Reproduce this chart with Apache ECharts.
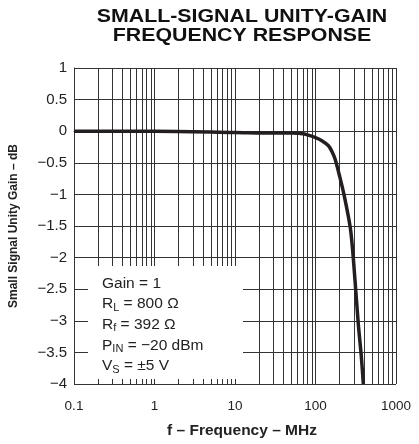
<!DOCTYPE html>
<html>
<head>
<meta charset="utf-8">
<script src="https://cdn.jsdelivr.net/npm/echarts@6/dist/echarts.min.js"></script>
<style>html,body{margin:0;padding:0;background:#fff;}#c{width:419px;height:444px;}</style>
</head>
<body>
<div id="c"></div>
<script>
// Data
const freqMHz = [0.1, 1, 10, 30, 50, 70, 100, 120, 145, 160, 175, 200, 230, 270, 290, 310, 340, 370, 393];
const gainDB  = [0, 0, -0.02, -0.03, -0.03, -0.04, -0.1, -0.15, -0.23, -0.32, -0.44, -0.72, -1.05, -1.52, -1.9, -2.37, -3.05, -3.55, -4.0];
const xDecades = [0.1, 1, 10, 100];
const minorMultiples = [2, 3, 4, 5, 6, 7, 8, 9];
const yMin = -4, yMax = 1, yStep = 0.5;
const titleLines = ['SMALL-SIGNAL UNITY-GAIN', 'FREQUENCY RESPONSE'];
const xName = 'f \u2013 Frequency \u2013 MHz';
const yName = 'Small Signal Unity Gain \u2013 dB';
const noteLines = ['Gain = 1', 'R{s|L} = 800 \u03A9', 'R{s|f} = 392 \u03A9', 'P{s|IN} = \u221220 dBm', 'V{s|S} = \u00B15 V'];

const minorX = [];
xDecades.forEach(d => minorMultiples.forEach(m => minorX.push(+(d * m).toPrecision(6))));

const font = '"Liberation Sans", Arial, Helvetica, sans-serif';
const gridColor = '#333';

const chart = echarts.init(document.getElementById('c'), null, {renderer: 'canvas'});
chart.setOption({
  animation: false,
  backgroundColor: '#fff',
  grid: {left: 74, right: 23, top: 68, bottom: 59, containLabel: false},
  xAxis: {
    type: 'log', logBase: 10, min: 0.1, max: 1000,
    name: xName, nameLocation: 'middle', nameGap: 39,
    nameTextStyle: {fontFamily: font, fontSize: 15.5, fontWeight: 'bold', color: '#222', padding: [0, 0, 0, 14]},
    axisLine: {show: true, lineStyle: {color: gridColor, width: 1}},
    axisTick: {show: false},
    axisLabel: {fontFamily: font, fontSize: 13.5, color: '#222', margin: 15,
      formatter: v => String(+v.toPrecision(6))},
    splitLine: {show: true, lineStyle: {color: gridColor, width: 1}}
  },
  yAxis: {
    type: 'value', min: yMin, max: yMax, interval: yStep,
    name: yName, nameLocation: 'middle', nameGap: 54, nameRotate: 90,
    nameTextStyle: {fontFamily: font, fontSize: 12, fontWeight: 'bold', color: '#222'},
    axisLine: {show: true, lineStyle: {color: gridColor, width: 1}},
    axisTick: {show: false},
    axisLabel: {fontFamily: font, fontSize: 15, color: '#222', margin: 7,
      formatter: v => (v < 0 ? '\u2212' + String(Math.abs(v)) : String(v))},
    splitLine: {show: true, lineStyle: {color: gridColor, width: 1}}
  },
  series: [
    {
      type: 'line', data: [], silent: true,
      markLine: {
        silent: true, symbol: 'none', label: {show: false}, z: 5,
        lineStyle: {color: gridColor, width: 1, type: 'solid'},
        data: minorX.map(v => ({xAxis: v}))
      },
      z: 1
    },
    {
      type: 'line', data: freqMHz.map((f, i) => [f, gainDB[i]]),
      showSymbol: false, smooth: 0.3,
      lineStyle: {color: '#231f20', width: 3.5},
      z: 10
    }
  ],
  graphic: [
    {type: 'text', x: 242, y: 7, scaleX: 1.22, z: 60,
      style: {text: titleLines.join('\n'), textAlign: 'center', fontFamily: font, fontSize: 17.5,
        fontWeight: 'bold', fill: '#111', lineHeight: 19.5}},
    {type: 'rect', shape: {x: 88, y: 266, width: 155, height: 113}, style: {fill: '#fff'}, z: 50},
    {type: 'text', x: 102, y: 273, z: 51,
      style: {
        text: noteLines.join('\n'), fontFamily: font, fontSize: 15.5, fill: '#222', lineHeight: 20.7,
        rich: {s: {fontFamily: font, fontSize: 11, fill: '#222', padding: [7, 0, 0, 0], lineHeight: 20.7}}
      }
    }
  ]
});
</script>
</body>
</html>
